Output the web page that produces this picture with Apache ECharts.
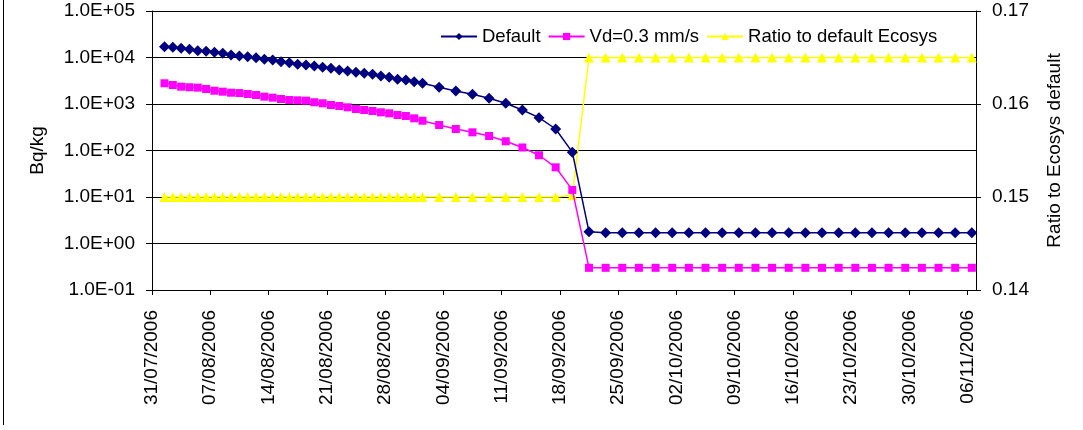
<!DOCTYPE html>
<html>
<head>
<meta charset="utf-8">
<script src="https://cdn.jsdelivr.net/npm/echarts@6/dist/echarts.min.js"></script>
<style>
  html, body { margin: 0; padding: 0; background: #fff; }
  #chart { width: 1083px; height: 430px; }
</style>
</head>
<body>
<div id="chart"></div>
<script>
// Sampling dates (daily through 1 Sept, then every second day)
const dates = [
  '01/08/2006','02/08/2006','03/08/2006','04/08/2006','05/08/2006','06/08/2006','07/08/2006','08/08/2006',
  '09/08/2006','10/08/2006','11/08/2006','12/08/2006','13/08/2006','14/08/2006','15/08/2006','16/08/2006',
  '17/08/2006','18/08/2006','19/08/2006','20/08/2006','21/08/2006','22/08/2006','23/08/2006','24/08/2006',
  '25/08/2006','26/08/2006','27/08/2006','28/08/2006','29/08/2006','30/08/2006','31/08/2006','01/09/2006',
  '03/09/2006','05/09/2006','07/09/2006','09/09/2006','11/09/2006','13/09/2006','15/09/2006','17/09/2006',
  '19/09/2006','21/09/2006','23/09/2006','25/09/2006','27/09/2006','29/09/2006','01/10/2006','03/10/2006',
  '05/10/2006','07/10/2006','09/10/2006','11/10/2006','13/10/2006','15/10/2006','17/10/2006','19/10/2006',
  '21/10/2006','23/10/2006','25/10/2006','27/10/2006','29/10/2006','31/10/2006','02/11/2006','04/11/2006',
  '06/11/2006'
];

// Activity concentration, default deposition (Bq/kg)
const defaultValues = [
  17000, 16700, 15800, 15000, 14000, 13700, 12900, 12300,
  11300, 10800, 10400, 9900, 9150, 8830, 8120, 7730,
  7140, 6900, 6560, 6150, 5860, 5390, 5130, 4810,
  4570, 4350, 4000, 3750, 3400, 3280, 3020, 2790,
  2290, 1900, 1620, 1330, 1035, 743, 508, 290,
  92, 1.8, 1.7, 1.7, 1.7, 1.7, 1.7, 1.7,
  1.7, 1.7, 1.7, 1.7, 1.7, 1.7, 1.7, 1.7,
  1.7, 1.7, 1.7, 1.7, 1.7, 1.7, 1.7, 1.7,
  1.7
];

// Activity concentration with Vd = 0.3 mm/s (Bq/kg)
const vdValues = [
  2790, 2560, 2360, 2290, 2250, 2100, 1930, 1840,
  1750, 1720, 1640, 1560, 1440, 1370, 1280, 1220,
  1200, 1180, 1090, 1035, 951, 906, 849, 780,
  743, 707, 663, 631, 580, 552, 492, 437,
  353, 290, 246, 205, 158, 116, 79, 43.5,
  14.2, 0.3, 0.3, 0.3, 0.3, 0.3, 0.3, 0.3,
  0.3, 0.3, 0.3, 0.3, 0.3, 0.3, 0.3, 0.3,
  0.3, 0.3, 0.3, 0.3, 0.3, 0.3, 0.3, 0.3,
  0.3
];

// Ratio to default Ecosys (right axis)
const ratioValues = [
  0.15, 0.15, 0.15, 0.15, 0.15, 0.15, 0.15, 0.15,
  0.15, 0.15, 0.15, 0.15, 0.15, 0.15, 0.15, 0.15,
  0.15, 0.15, 0.15, 0.15, 0.15, 0.15, 0.15, 0.15,
  0.15, 0.15, 0.15, 0.15, 0.15, 0.15, 0.15, 0.15,
  0.15, 0.15, 0.15, 0.15, 0.15, 0.15, 0.15, 0.15,
  0.1502, 0.165, 0.165, 0.165, 0.165, 0.165, 0.165, 0.165,
  0.165, 0.165, 0.165, 0.165, 0.165, 0.165, 0.165, 0.165,
  0.165, 0.165, 0.165, 0.165, 0.165, 0.165, 0.165, 0.165,
  0.165
];

// Weekly date labels along the time axis
const tickLabels = [
  '31/07/2006','07/08/2006','14/08/2006','21/08/2006','28/08/2006','04/09/2006','11/09/2006',
  '18/09/2006','25/09/2006','02/10/2006','09/10/2006','16/10/2006','23/10/2006','30/10/2006','06/11/2006'
];

const FONT = '"Liberation Sans", Arial, sans-serif';
const DAY = 86400000;
const axisStart = Date.UTC(2006, 6, 31);

// Day offset from the axis start; each day is a band, points sit mid-band
function dayPos(s) {
  const [d, m, y] = s.split('/').map(Number);
  return (Date.UTC(y, m - 1, d) - axisStart) / DAY + 0.5;
}
const pair = vals => vals.map((v, i) => [dayPos(dates[i]), v]);

function sci(v) {
  const e = Math.round(Math.log10(v));
  const sign = e < 0 ? '-' : '+';
  const a = Math.abs(e);
  return '1.0E' + sign + (a < 10 ? '0' + a : a);
}

const chart = echarts.init(document.getElementById('chart'));
chart.setOption({
  animation: false,
  backgroundColor: '#fff',
  textStyle: { fontFamily: FONT },
  grid: { left: 152, right: 107, top: 11, bottom: 140 },
  legend: {
    left: 440, top: 27, padding: 0,
    itemWidth: 36, itemHeight: 9, itemGap: 7,
    textStyle: { fontSize: 18.5, color: '#000', fontFamily: FONT },
    data: ['Default', 'Vd=0.3 mm/s', 'Ratio to default Ecosys']
  },
  xAxis: {
    type: 'value', min: 0, max: 99, interval: 7,
    axisLine: { show: true, lineStyle: { color: '#000', width: 1 } },
    axisTick: { show: true, length: 5, lineStyle: { color: '#000' } },
    axisLabel: {
      rotate: 90, margin: 20, fontSize: 19, color: '#000', fontFamily: FONT,
      showMaxLabel: false,
      formatter: v => tickLabels[Math.round(v / 7)] || ''
    },
    splitLine: { show: false }
  },
  yAxis: [
    {
      type: 'log', logBase: 10, min: 0.1, max: 100000,
      name: 'Bq/kg', nameLocation: 'middle', nameRotate: 90, nameGap: 105,
      nameTextStyle: { fontSize: 19, color: '#000', fontFamily: FONT },
      axisLine: { show: true, lineStyle: { color: '#000' } },
      axisTick: { show: true, length: 6, lineStyle: { color: '#000' } },
      axisLabel: { fontSize: 19, color: '#000', margin: 17, fontFamily: FONT, formatter: sci },
      splitLine: { show: true, lineStyle: { color: '#000', width: 1 } },
      minorTick: { show: false }
    },
    {
      type: 'value', min: 0.14, max: 0.17, interval: 0.01, position: 'right',
      name: 'Ratio to Ecosys default', nameLocation: 'middle', nameRotate: 90, nameGap: 69,
      nameTextStyle: { fontSize: 19, color: '#000', fontFamily: FONT },
      axisLine: { show: true, lineStyle: { color: '#000' } },
      axisTick: { show: true, length: 5, lineStyle: { color: '#000' } },
      axisLabel: { fontSize: 19, color: '#000', margin: 16, fontFamily: FONT, formatter: v => v.toFixed(2) },
      splitLine: { show: false }
    }
  ],
  series: [
    {
      name: 'Default', type: 'line', yAxisIndex: 0,
      data: pair(defaultValues),
      symbol: 'diamond', symbolSize: 11,
      itemStyle: { color: '#000080' },
      lineStyle: { color: '#000080', width: 1.5 },
      z: 3
    },
    {
      name: 'Vd=0.3 mm/s', type: 'line', yAxisIndex: 0,
      data: pair(vdValues),
      symbol: 'rect', symbolSize: 8,
      itemStyle: { color: '#FF00FF' },
      lineStyle: { color: '#FF00FF', width: 1.5 },
      z: 2
    },
    {
      name: 'Ratio to default Ecosys', type: 'line', yAxisIndex: 1,
      data: pair(ratioValues),
      symbol: 'triangle', symbolSize: 10,
      itemStyle: { color: '#FFFF00' },
      lineStyle: { color: '#FFFF00', width: 1.5 },
      z: 1
    }
  ],
  graphic: [
    {
      type: 'line', silent: true,
      shape: { x1: 3.5, y1: 0, x2: 3.5, y2: 425 },
      style: { stroke: '#000', lineWidth: 1 }
    }
  ]
});
</script>
</body>
</html>
